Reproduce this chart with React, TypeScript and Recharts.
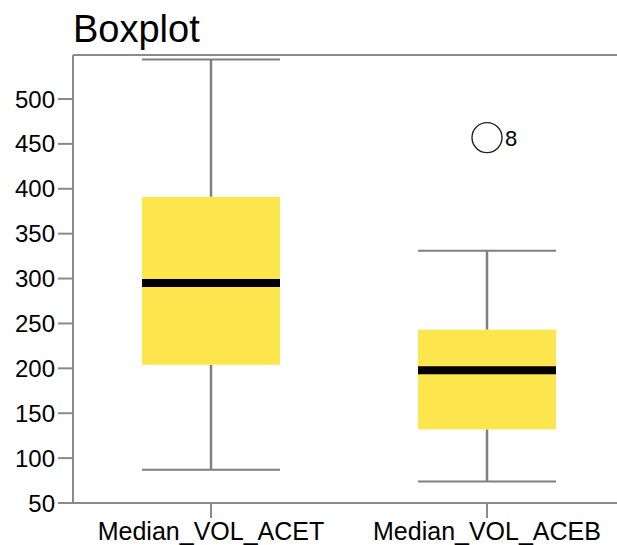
import React from "react";
import {
  ComposedChart,
  Bar,
  Scatter,
  XAxis,
  YAxis,
  ReferenceLine,
} from "recharts";

// box statistics
const categories = ["Median_VOL_ACET", "Median_VOL_ACEB"];
const mins = [87, 74];
const q1s = [204, 132];
const medians = [295, 198];
const q3s = [391, 243];
const maxs = [544, 331];
const outliers: (number | null)[] = [null, 457];
const outlierLabels: (string | null)[] = [null, "8"];

const yTicks = [50, 100, 150, 200, 250, 300, 350, 400, 450, 500];
const yMin = 50;
const yMax = 549;

const FONT = "'Liberation Sans', Arial, Helvetica, sans-serif";
const AXIS_COLOR = "#8a8a8a";
const WHISKER_COLOR = "#7f7f7f";
const BOX_FILL = "#fce54d";

const data = categories.map((name, i) => ({
  name,
  min: mins[i],
  q1: q1s[i],
  median: medians[i],
  q3: q3s[i],
  max: maxs[i],
  outlier: outliers[i],
  outlierLabel: outlierLabels[i],
}));

// draws whiskers, caps, box and median from the bar's [min, max] extent
const BoxShape = (props: any) => {
  const { x, y, width, height, payload } = props;
  if (!payload || !isFinite(y) || !isFinite(height)) return null;
  const top = Math.min(y, y + height);
  const bottom = Math.max(y, y + height);
  const span = payload.max - payload.min;
  const py = (v: number) => top + ((payload.max - v) / span) * (bottom - top);
  const cx = x + width / 2;
  const left = x;
  const right = x + width;
  return (
    <g>
      <line x1={cx} x2={cx} y1={py(payload.max)} y2={py(payload.q3)} stroke={WHISKER_COLOR} strokeWidth={2.5} />
      <line x1={cx} x2={cx} y1={py(payload.q1)} y2={py(payload.min)} stroke={WHISKER_COLOR} strokeWidth={2.5} />
      <line x1={left} x2={right} y1={py(payload.max)} y2={py(payload.max)} stroke={WHISKER_COLOR} strokeWidth={2} />
      <line x1={left} x2={right} y1={py(payload.min)} y2={py(payload.min)} stroke={WHISKER_COLOR} strokeWidth={2} />
      <rect x={left} y={py(payload.q3)} width={width} height={py(payload.q1) - py(payload.q3)} fill={BOX_FILL} />
      <line x1={left} x2={right} y1={py(payload.median)} y2={py(payload.median)} stroke="#000" strokeWidth={8} />
    </g>
  );
};

const OutlierShape = (props: any) => {
  const { cx, cy, payload } = props;
  if (!payload || payload.outlier == null || !isFinite(cy)) return null;
  return (
    <g>
      <circle cx={cx} cy={cy} r={15} fill="#fff" stroke="#222" strokeWidth={1.4} />
      <text x={cx + 18} y={cy + 8} fontSize={22} fontFamily={FONT} fill="#000">
        {payload.outlierLabel}
      </text>
    </g>
  );
};

export default function App() {
  return (
    <div
      style={{
        position: "absolute",
        left: 0,
        top: 0,
        width: 617,
        height: 545,
        overflow: "hidden",
        background: "#fff",
        fontFamily: FONT,
      }}
    >
      <div
        style={{
          position: "absolute",
          left: 73,
          top: 8,
          fontSize: 38,
          lineHeight: "normal",
          color: "#000",
        }}
      >
        Boxplot
      </div>
      <ComposedChart
        width={640}
        height={545}
        data={data}
        margin={{ top: 55, right: 15, bottom: 0, left: 0 }}
        barCategoryGap="25%"
      >
        <XAxis
          dataKey="name"
          type="category"
          stroke={AXIS_COLOR}
          strokeWidth={2}
          tickSize={15}
          tickMargin={4}
          height={42}
          tick={{ fill: "#000", fontSize: 25, fontFamily: FONT }}
          interval={0}
        />
        <YAxis
          type="number"
          domain={[yMin, yMax]}
          ticks={yTicks}
          allowDataOverflow
          stroke={AXIS_COLOR}
          strokeWidth={2}
          tickSize={15}
          tickMargin={3}
          width={73}
          tick={{ fill: "#000", fontSize: 24, fontFamily: FONT }}
        />
        <ReferenceLine y={yMax} stroke={AXIS_COLOR} strokeWidth={2} />
        <Bar
          dataKey={(d: any) => [d.min, d.max]}
          shape={BoxShape}
          isAnimationActive={false}
        />
        <Scatter
          dataKey="outlier"
          shape={OutlierShape}
          isAnimationActive={false}
        />
      </ComposedChart>
    </div>
  );
}
